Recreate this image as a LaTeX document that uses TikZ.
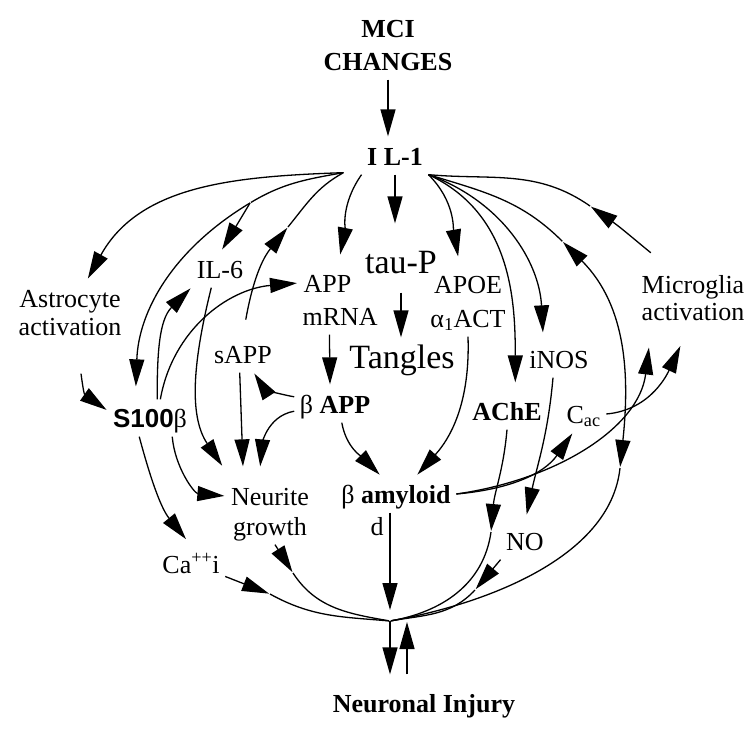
\documentclass[tikz,border=0pt]{standalone}
\usepackage{fontspec}
\setmainfont{Liberation Serif}
\newfontfamily\sansbold{Liberation Sans}
\usepackage{tikz}
\usetikzlibrary{arrows.meta,positioning}

\begin{document}
\begin{tikzpicture}[x=1pt,y=1pt,shorten >=1pt,line width=1.3pt,
    >={Triangle[length=27pt,width=15pt]}]
  \tikzstyle{lab}=[font=\fontsize{26}{28}\selectfont,text height=24pt,text depth=6pt,inner xsep=5pt,inner ysep=3pt]
  \tikzstyle{hdr}=[lab,font=\bfseries\fontsize{26}{28}\selectfont]
  \tikzstyle{bigtxt}=[lab,font=\fontsize{34}{38}\selectfont,text height=26pt,text depth=8pt]
  \useasboundingbox (0,0) rectangle (756,-729);

  \node[hdr,anchor=base] (mci) at (388,-37) {MCI};
  \node[hdr] (chg) [below of=mci,node distance=33pt] {CHANGES};
  \node[hdr,anchor=base] (il1) at (395,-165) {I L-1};
  \node[lab,anchor=base] (astro) at (70,-307) {Astrocyte};
  \node[lab] (astroact) [below of=astro,node distance=28pt] {activation};
  \node[lab,anchor=base] (il6) at (220,-278) {IL-6};
  \node[lab,anchor=base west] (app) at (298,-292) {APP};
  \node[lab,anchor=base west] (mrna) at (297,-325) {mRNA};
  \node[bigtxt,anchor=base] (tau) at (401,-273) {tau-P};
  \node[bigtxt,anchor=base] (tang) at (402,-368) {Tangles};
  \node[lab,anchor=base] (apoe) at (468,-293) {APOE};
  \node[lab] (act) [below of=apoe,node distance=34pt] {α\textsubscript{1}ACT};
  \node[lab,anchor=base] (micro) at (693,-293) {Microglia};
  \node[lab] (microact) [below of=micro,node distance=27pt] {activation};
  \node[lab,anchor=base] (sapp) at (243,-363) {sAPP};
  \node[lab,anchor=base] (inos) at (559,-368) {iNOS};
  \node[lab,anchor=base] (bapp) at (335,-413) {β \textbf{APP}};
  \node[lab,anchor=base] (s100) at (150,-427) {{\sansbold\bfseries S100}β};
  \node[hdr,anchor=base] (ache) at (507,-420) {AChE};
  \node[lab,anchor=base west] (cac) at (561,-423) {C\textsubscript{ac}};
  \node[lab,anchor=base] (neur) at (270,-505) {Neurite};
  \node[lab] (grow) [below of=neur,node distance=30pt] {growth};
  \node[lab,anchor=base] (amy) at (396,-503) {β \textbf{amyloid}};
  \node[lab,anchor=base] (dd) at (377,-535) {d};
  \node[lab,anchor=base] (no) at (525,-550) {NO};
  \node[lab,anchor=base] (ca) at (191,-573) {Ca\textsuperscript{++}i};
  \node[hdr,anchor=base] (inj) at (424,-712) {Neuronal Injury};

  \coordinate (il1w) at ([shift={(-18pt,2pt)}]il1.south west);
  \coordinate (br) at (250,-203);
  \coordinate (hub) at (390,-621);
  \coordinate (hubr) at (407,-621);
  \coordinate (mgtip) at (590,-206);
  \coordinate (sapptip) at (288,-227);
  \coordinate (uptip) at (563,-242);
  \coordinate (dntip) at (620,-468);
  \coordinate (catip) at (270,-594);
  \coordinate (grtip) at (293,-573);
  \coordinate (achetip) at (491,-532);
  \coordinate (notip) at (475,-590);

  \path[->]
  (chg) edge (chg |- il1.north)
  (il1w) edge[out=182,in=61] (astro.47)
  (il1w) edge[-,out=190,in=31] (br)
  (br) edge[out=211,in=88,shorten >=13pt] (s100.128)
  (br) edge (il6.85)
  (il1.south west) edge[out=235,in=79,shorten >=10pt] (app.60)
  (il1.south) edge[shorten >=20pt] (il1.south |- tau.north)
  (il1.south east) edge[out=-45,in=100,shorten >=9pt] (apoe.114)
  (il1.south east) edge[out=-25,in=90,shorten >=10pt] (ache.66)
  (il1.south east) edge[out=-20,in=93,shorten >=8pt] (inos.130)
  (il1.south east) edge[-,out=-17,in=135] (uptip)
  (uptip) edge[<->,out=-45,in=84] (dntip)
  (dntip) edge[-,out=-96,in=10,looseness=0.85] (hub)
  (micro.145) edge[out=141,in=-35,shorten <=20pt] (mgtip)
  (mgtip) edge[-,out=145,in=-5] (il1.south east)
  (sapp.north) edge[out=80,in=231,shorten <=16pt] (sapptip)
  (sapptip) edge[-,out=51,in=209] (il1w)
  (tau.south) edge[shorten <=8pt] (tau.south |- tang.north)
  (s100.69) edge[out=90,in=225] (il6.south west)
  (s100.61) edge[out=80,in=185] (app.west)
  (astroact.-80) edge[out=-75,in=145,shorten <=30pt] (s100.170)
  (il6.-115) edge[out=256,in=124,shorten >=14pt] (neur.155)
  (sapp.-100) edge[shorten >=11pt] (neur.145)
  (bapp) edge[out=170,in=-57] (sapp.-60)
  (bapp) edge[out=190,in=85,shorten >=11pt] (neur.120)
  (mrna.-120) edge (bapp.105)
  (bapp.-70) edge[out=-80,in=135] (amy.130)
  (act.south) edge[out=-88,in=48] (amy.42)
  (amy.east) edge[out=5,in=235] (cac.-120)
  (amy.east) edge[out=8,in=-97,shorten >=18pt] (microact.-156)
  (cac.east) edge[out=5,in=-115,shorten >=18pt] (microact.-105)
  (s100.-40) edge[out=-85,in=175] (neur.west)
  (s100.-120) edge[out=-75,in=129,shorten >=8pt] (ca.north)
  (ca.-20) edge (catip)
  (catip) edge[-,out=-29,in=175] (hub)
  (grow.-75) edge (grtip)
  (grtip) edge[-,out=-57,in=170] (hub)
  (amy.south -| hub) edge[shorten >=11pt] (hub)
  (ache.south) edge[out=-95,in=85] (achetip)
  (achetip) edge[-,out=-98,in=10] (hub)
  ([xshift=-6pt]inos.south) edge[out=-95,in=78,shorten >=8pt] (no.north)
  (no.south west) edge (notip)
  (notip) edge[-,out=227,in=10] (hub)
  (hub) edge[shorten >=10pt] (hub |- inj.north)
  (hubr |- inj.north) edge[shorten <=10pt] (hubr)
  ;
\end{tikzpicture}
\end{document}
